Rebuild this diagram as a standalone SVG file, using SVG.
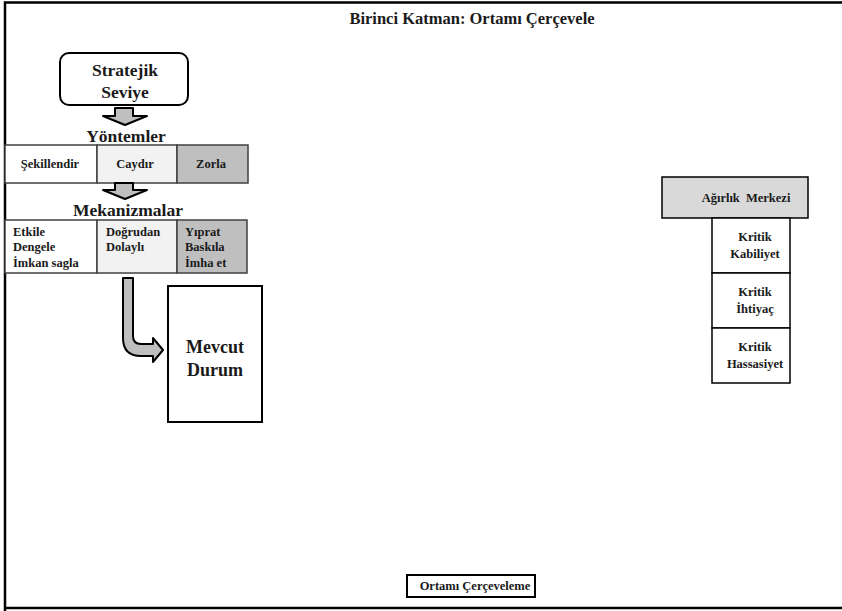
<svg xmlns="http://www.w3.org/2000/svg" width="842" height="611" viewBox="0 0 842 611">
<style>
text{font-family:'Liberation Serif','DejaVu Serif',serif;font-weight:700;fill:#1a1a1a}
.c{text-anchor:middle}
.box{stroke:#000;stroke-width:2;fill:#fff}
.cell{stroke:#404040;stroke-width:1.5}
.blk{fill:#bfbfbf;stroke:#000;stroke-width:2;stroke-linejoin:round}
.s11{font-size:12.5px}
</style>
<rect width="842" height="611" fill="#fff"/>
<path d="M5,611 V2.5 H842 M5,608 H842" fill="none" stroke="#000" stroke-width="2.5"/>
<g id="title"><text class="c" x="472" y="24" font-size="16.5">Birinci Katman: Ortamı Çerçevele</text></g>
<g id="stratejik">
<rect class="box" x="60" y="53" width="128" height="52" rx="9"/>
<text class="c" x="125" y="76" font-size="17.5">Stratejik</text>
<text class="c" x="125" y="98" font-size="17.5">Seviye</text>
</g>
<g id="yontemler">
<text class="c" x="126" y="142" font-size="17.5">Yöntemler</text>
<rect class="cell" x="5" y="145" width="92" height="38" fill="#fff"/>
<rect class="cell" x="97" y="145" width="80" height="38" fill="#f2f2f2"/>
<rect class="cell" x="177" y="145" width="71" height="38" fill="#bfbfbf"/>
<text class="c s11" x="50" y="168">Şekillendir</text>
<text class="c s11" x="135" y="168">Caydır</text>
<text class="c s11" x="211" y="168">Zorla</text>
</g>
<g id="mekanizmalar">
<text class="c" x="128" y="216" font-size="17.5">Mekanizmalar</text>
<rect class="cell" x="5" y="220" width="92" height="53" fill="#fff"/>
<rect class="cell" x="97" y="220" width="80" height="53" fill="#f2f2f2"/>
<rect class="cell" x="177" y="220" width="70" height="53" fill="#bfbfbf"/>
<text class="s11" x="13" y="236">Etkile</text>
<text class="s11" x="13" y="251">Dengele</text>
<text class="s11" x="13" y="267">İmkan sagla</text>
<text class="s11" x="106" y="236">Doğrudan</text>
<text class="s11" x="106" y="251">Dolaylı</text>
<text class="s11" x="185" y="236">Yıprat</text>
<text class="s11" x="185" y="251">Baskıla</text>
<text class="s11" x="185" y="267">İmha et</text>
</g>
<g id="mevcut">
<rect class="box" x="168" y="286" width="94" height="136"/>
<text class="c" x="215" y="353" font-size="18">Mevcut</text>
<text class="c" x="215" y="376" font-size="18">Durum</text>
</g>
<g id="agirlik">
<rect x="662" y="177" width="146" height="41" fill="#d9d9d9" stroke="#000" stroke-width="1.5"/>
<text class="c s11" x="746" y="202" word-spacing="3">Ağırlık Merkezi</text>
</g>
<g id="kabiliyet">
<rect x="712" y="218" width="78" height="55" fill="#fff" stroke="#000" stroke-width="1.5"/>
<text class="c s11" x="755" y="241">Kritik</text>
<text class="c s11" x="755" y="258">Kabiliyet</text>
</g>
<g id="ihtiyac">
<rect x="712" y="273" width="78" height="55" fill="#fff" stroke="#000" stroke-width="1.5"/>
<text class="c s11" x="755" y="296">Kritik</text>
<text class="c s11" x="755" y="313">İhtiyaç</text>
</g>
<g id="hassasiyet">
<rect x="712" y="328" width="78" height="55" fill="#fff" stroke="#000" stroke-width="1.5"/>
<text class="c s11" x="755" y="351">Kritik</text>
<text class="c s11" x="755" y="368">Hassasiyet</text>
</g>
<g id="ortami">
<rect class="box" x="407" y="575" width="128" height="22"/>
<text class="c s11" x="475" y="590">Ortamı Çerçeveleme</text>
</g>
<g id="connectors">
<path class="blk" d="M115,108 H133 V116 H147 L125,125 L103,116 H115 Z"/>
<path class="blk" d="M115,183 H133 V190 H147 L125,199 L103,190 H115 Z"/>
<path class="blk" d="M123,278 H133 V336 Q133,344 141,344 H153 V338 L163,350 L153,362 V356 H141 Q123,356 123,338 Z"/>
</g>
</svg>
